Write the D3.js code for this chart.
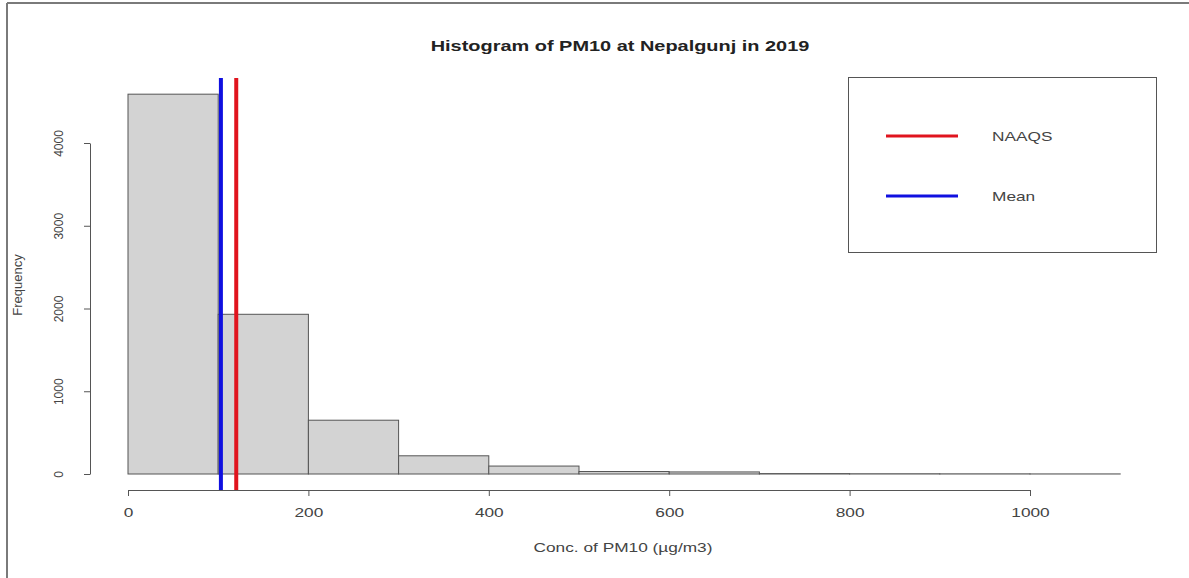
<!DOCTYPE html>
<html>
<head>
<meta charset="utf-8">
<script src="https://cdn.jsdelivr.net/npm/d3@7"></script>
<style>
  html, body { margin: 0; padding: 0; background: #fff; }
  svg { display: block; }
  text { font-family: "Liberation Sans", Arial, sans-serif; }
</style>
</head>
<body>
<svg id="chart" width="1189" height="578"></svg>
<script>
// ---- data ----
const binStarts = [0, 100, 200, 300, 400, 500, 600, 700, 800, 900, 1000];
const binWidth = 100;
const frequencies = [4590, 1930, 650, 220, 96, 30, 25, 5, 3, 2, 1];
const xTicks = [0, 200, 400, 600, 800, 1000];
const yTicks = [0, 1000, 2000, 3000, 4000];
const refNames = ["NAAQS", "Mean"];
const refValues = [120, 103];
const refColors = ["#e0141e", "#1010e0"];
const titleText = "Histogram of PM10 at Nepalgunj in 2019";
const xLabel = "Conc. of PM10 (\u00b5g/m3)";
const yLabel = "Frequency";

const SX = 1.33; // horizontal stretch of text seen in the reference

const svg = d3.select("#chart");

function stretchedText(parent, xPos, yPos, str, size, anchor) {
  return parent.append("text")
    .attr("transform", `translate(${xPos},${yPos}) scale(${SX},1)`)
    .attr("text-anchor", anchor || "middle")
    .attr("font-size", size)
    .text(str);
}

// outer frame (left and top edges only, as in the picture)
svg.append("line").attr("x1", 7).attr("x2", 7).attr("y1", 3).attr("y2", 578)
  .attr("stroke", "#7a7a7a").attr("stroke-width", 2);
svg.append("line").attr("x1", 7).attr("x2", 1189).attr("y1", 3).attr("y2", 3)
  .attr("stroke", "#7a7a7a").attr("stroke-width", 2);

const x = d3.scaleLinear().domain([0, 1000]).range([128, 1030]);
const y = d3.scaleLinear().domain([0, 4000]).range([474, 143]);

// bars
svg.append("g").selectAll("rect").data(binStarts).join("rect")
  .attr("x", (d) => x(d))
  .attr("width", (d) => x(d + binWidth) - x(d))
  .attr("y", (d, i) => y(frequencies[i]))
  .attr("height", (d, i) => y(0) - y(frequencies[i]))
  .attr("fill", "#d3d3d3")
  .attr("stroke", "#555")
  .attr("stroke-width", 1);

// reference lines (abline spanning plot region)
svg.append("g").selectAll("line").data(refValues).join("line")
  .attr("x1", (d) => x(d)).attr("x2", (d) => x(d))
  .attr("y1", 78).attr("y2", 490)
  .attr("stroke", (d, i) => refColors[i])
  .attr("stroke-width", 4);

// x axis
const xAxis = svg.append("g").attr("transform", "translate(0,490)")
  .call(d3.axisBottom(x).tickValues(xTicks).tickFormat(d3.format("d"))
    .tickSize(6).tickSizeOuter(0).tickPadding(12));
xAxis.select(".domain").attr("stroke", "#555");
xAxis.selectAll(".tick line").attr("stroke", "#555");
xAxis.selectAll("text").attr("font-size", 13).attr("fill", "#444")
  .attr("transform", `scale(${SX},1)`);

// y axis
const yAxis = svg.append("g").attr("transform", "translate(90,0)")
  .call(d3.axisLeft(y).tickValues(yTicks).tickFormat(d3.format("d"))
    .tickSize(6).tickSizeOuter(0).tickPadding(0));
yAxis.select(".domain").attr("stroke", "#555");
yAxis.selectAll(".tick line").attr("stroke", "#555");
yAxis.selectAll("text")
  .attr("font-size", 12).attr("fill", "#444")
  .attr("text-anchor", "middle")
  .attr("x", 0).attr("dy", 0)
  .attr("transform", "translate(-27,0) rotate(-90)");

// title
stretchedText(svg, 620, 51, titleText, 15, "middle")
  .attr("font-weight", "bold").attr("fill", "#222");

// axis labels
stretchedText(svg, 623, 552, xLabel, 13, "middle").attr("fill", "#444");
svg.append("text").attr("transform", "translate(22,285) rotate(-90)")
  .attr("text-anchor", "middle").attr("font-size", 13).attr("fill", "#444").text(yLabel);

// legend
const lg = svg.append("g");
lg.append("rect").attr("x", 848.5).attr("y", 77.5).attr("width", 308).attr("height", 175)
  .attr("fill", "#fff").attr("stroke", "#555").attr("stroke-width", 1);
refNames.forEach((name, i) => {
  const ly = 136 + i * 60;
  lg.append("line").attr("x1", 886).attr("x2", 958).attr("y1", ly).attr("y2", ly)
    .attr("stroke", refColors[i]).attr("stroke-width", 3);
  stretchedText(lg, 992, ly + 5, name, 13, "start").attr("fill", "#444");
});
</script>
</body>
</html>
